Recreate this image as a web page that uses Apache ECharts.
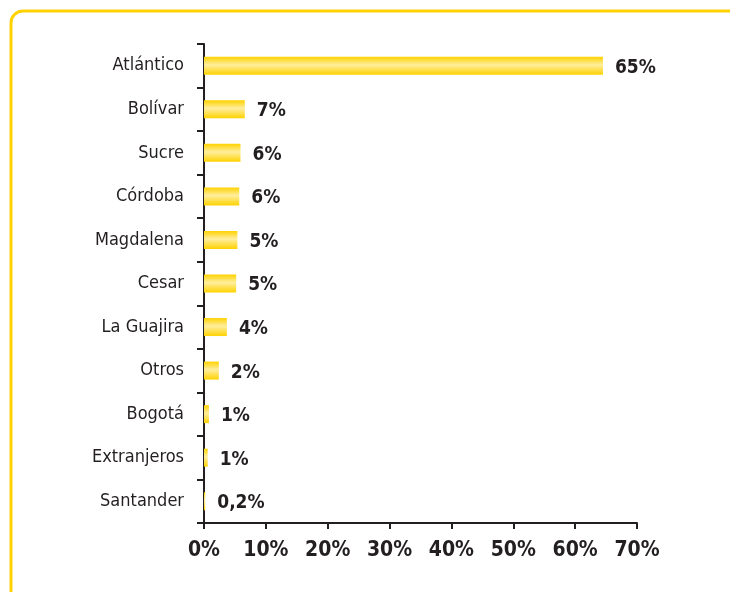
<!DOCTYPE html>
<html>
<head>
<meta charset="utf-8">
<script src="https://cdn.jsdelivr.net/npm/echarts@6/dist/echarts.min.js"></script>
<style>
  html, body { margin: 0; padding: 0; background: #fff; }
  #chart { width: 730px; height: 592px; }
</style>
</head>
<body>
<div id="chart"></div>
<script>
const categories = ['Atlántico', 'Bolívar', 'Sucre', 'Córdoba', 'Magdalena', 'Cesar', 'La Guajira', 'Otros', 'Bogotá', 'Extranjeros', 'Santander']
const shares = [64.5, 6.6, 5.9, 5.7, 5.4, 5.2, 3.7, 2.4, 0.8, 0.6, 0.2]
const shareLabels = ['65%', '7%', '6%', '6%', '5%', '5%', '4%', '2%', '1%', '1%', '0,2%']

const textColor = '#231f20'
const narrow = "'Liberation Sans Narrow', 'DejaVu Sans Condensed', sans-serif"

const chart = echarts.init(document.getElementById('chart'))

chart.setOption({
  animation: false,
  graphic: [
    {
      type: 'rect',
      shape: { x: 11, y: 11, width: 740, height: 620, r: 12 },
      style: { fill: 'none', stroke: '#FFD200', lineWidth: 3 },
    },
  ],
  grid: {
    left: 204,
    top: 44,
    width: 433,
    height: 479,
  },
  xAxis: {
    type: 'value',
    min: 0,
    max: 70,
    interval: 10,
    splitLine: { show: false },
    axisLine: { show: true, lineStyle: { color: textColor, width: 2 } },
    axisTick: { show: true, length: 6, lineStyle: { color: textColor, width: 2 } },
    axisLabel: {
      formatter: '{value}%',
      color: textColor,
      fontFamily: narrow,
      fontWeight: 'bold',
      fontSize: 21,
      margin: 17,
    },
  },
  yAxis: {
    type: 'category',
    inverse: true,
    data: categories,
    axisLine: { show: true, lineStyle: { color: textColor, width: 2 } },
    axisTick: { show: true, length: 7, lineStyle: { color: textColor, width: 2 } },
    axisLabel: {
      color: textColor,
      fontFamily: narrow,
      fontSize: 18,
      margin: 20,
    },
  },
  series: [
    {
      type: 'bar',
      data: shares,
      barWidth: 18,
      itemStyle: {
        color: new echarts.graphic.LinearGradient(0, 0, 0, 1, [
          { offset: 0, color: '#FFD200' },
          { offset: 0.45, color: '#FFEE9E' },
          { offset: 1, color: '#FFD200' },
        ]),
      },
      label: {
        show: true,
        position: 'right',
        distance: 12,
        offset: [0, 2],
        formatter: (p) => shareLabels[p.dataIndex],
        color: textColor,
        fontFamily: narrow,
        fontWeight: 'bold',
        fontSize: 19,
      },
    },
  ],
})
</script>
</body>
</html>
